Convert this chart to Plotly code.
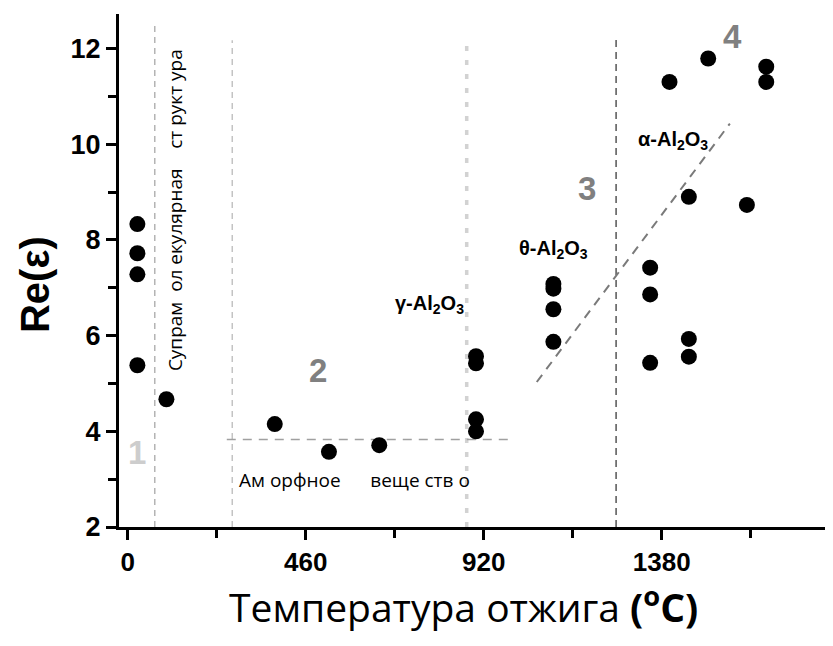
import plotly.graph_objects as go

# ---- data ----
temps = [25, 25, 25, 25, 100, 380, 520, 650, 900, 900, 900, 900,
         1100, 1100, 1100, 1100, 1350, 1350, 1350, 1400, 1450, 1450, 1450,
         1500, 1600, 1650, 1650]
re_eps = [8.33, 7.72, 7.28, 5.38, 4.67, 4.15, 3.57, 3.71, 5.57, 5.42, 4.25, 4.0,
          7.08, 6.98, 6.55, 5.87, 7.42, 6.86, 5.43, 11.30, 8.90, 5.93, 5.56,
          11.79, 8.73, 11.62, 11.30]

x_ticks = [0, 460, 920, 1380]
x_minor = [230, 690, 1150, 1610]
y_ticks = [2, 4, 6, 8, 10, 12]
y_minor = [3, 5, 7, 9, 11]

# boundary lines (x position, top value)
vlines_x = [70, 270, 876, 1262]
vlines_top = [12.55, 12.17, 12.17, 12.28]
hline_x = [256, 992]
hline_y = 3.83
trend_x = [1057, 1556]
trend_y = [5.03, 10.43]

region_labels = ["1", "2", "3", "4"]
region_x = [24, 492, 1187, 1564]
region_y = [3.56, 5.28, 9.08, 12.24]

phase_labels = ["γ-Al<sub>2</sub>O<sub>3</sub>", "θ-Al<sub>2</sub>O<sub>3</sub>",
                "α-Al<sub>2</sub>O<sub>3</sub>"]
phase_x = [781, 1099, 1409]
phase_y = [6.64, 7.79, 10.08]

fig = go.Figure()

styles = [dict(color="#a8a8a8", width=1.3, dash="6px,5px"),
          dict(color="#b5b5b5", width=1.2, dash="6px,5px"),
          dict(color="#d2d2d2", width=3.5, dash="5px,9px"),
          dict(color="#555555", width=1.5, dash="7px,5px")]
for xv, top, st in zip(vlines_x, vlines_top, styles):
    fig.add_trace(go.Scatter(x=[xv, xv], y=[2, top], mode="lines",
                             line=st, showlegend=False, hoverinfo="skip"))
fig.add_trace(go.Scatter(x=hline_x, y=[hline_y, hline_y], mode="lines",
                         line=dict(color="#a0a0a0", width=1.5, dash="9px,7px"),
                         showlegend=False, hoverinfo="skip"))
fig.add_trace(go.Scatter(x=trend_x, y=trend_y, mode="lines",
                         line=dict(color="#7a7a7a", width=2, dash="9px,7px"),
                         showlegend=False, hoverinfo="skip"))

fig.add_trace(go.Scatter(x=temps, y=re_eps, mode="markers",
                         marker=dict(color="black", size=16),
                         showlegend=False))

ann = []
for t, xv, yv in zip(region_labels, region_x, region_y):
    ann.append(dict(x=xv, y=yv, text=t, showarrow=False,
                    font=dict(family="Liberation Sans", size=33,
                              color="#cdcdcd" if t == "1" else "#808080",
                              weight="bold")))
for t, xv, yv in zip(phase_labels, phase_x, phase_y):
    ann.append(dict(x=xv, y=yv, text=t, showarrow=False,
                    font=dict(family="Liberation Sans", size=20, color="black",
                              weight="bold")))
ann.append(dict(x=122, y=8.62,
                text="Супрам\u00a0\u00a0ол екулярная\u00a0\u00a0\u00a0\u00a0ст рукт ура",
                textangle=-90, showarrow=False,
                font=dict(family="Open Sans", size=19, color="black")))
ann.append(dict(x=587, y=2.98,
                text="Ам\u00a0орфное\u00a0\u00a0\u00a0\u00a0\u00a0\u00a0веще ств о",
                showarrow=False,
                font=dict(family="Open Sans", size=19, color="black")))
ann.append(dict(xref="paper", yref="paper", x=-0.1176, y=0.4717,
                xanchor="center", yanchor="middle", text="<b>Re(ε)</b>",
                textangle=-90, showarrow=False,
                font=dict(family="Liberation Sans", size=40, color="black")))
ann.append(dict(xref="paper", yref="paper", x=0.482, y=-0.152,
                xanchor="center", yanchor="middle",
                text="Температура отжига <b>(<sup>o</sup>C)</b>",
                showarrow=False,
                font=dict(family="Open Sans", size=39, color="black")))

# page body has an 8 px margin, so the figure is 8 px smaller and shifted
fig.update_layout(
    width=825, height=638,
    margin=dict(l=111, r=0, t=6, b=119),
    plot_bgcolor="white", paper_bgcolor="white",
    annotations=ann,
    xaxis=dict(range=[-22.5, 1822.5], tickvals=x_ticks,
               ticktext=[str(v) for v in x_ticks],
               showgrid=False, zeroline=False, showline=True,
               linecolor="black", linewidth=3, ticks="outside",
               ticklen=10, tickwidth=2.5, tickcolor="black",
               tickfont=dict(family="Liberation Sans", size=26,
                             color="black", weight="bold"),
               minor=dict(tickvals=x_minor, ticks="outside",
                          ticklen=8, tickwidth=2.5, tickcolor="black")),
    yaxis=dict(range=[2, 12.72], tickvals=y_ticks,
               showgrid=False, zeroline=False, showline=True,
               linecolor="black", linewidth=3, ticks="outside",
               ticklen=10, tickwidth=2.5, tickcolor="black",
               tickfont=dict(family="Liberation Sans", size=27,
                             color="black", weight="bold"),
               minor=dict(tickvals=y_minor, ticks="outside",
                          ticklen=8, tickwidth=2.5, tickcolor="black")),
)

fig.write_html("out.html")
